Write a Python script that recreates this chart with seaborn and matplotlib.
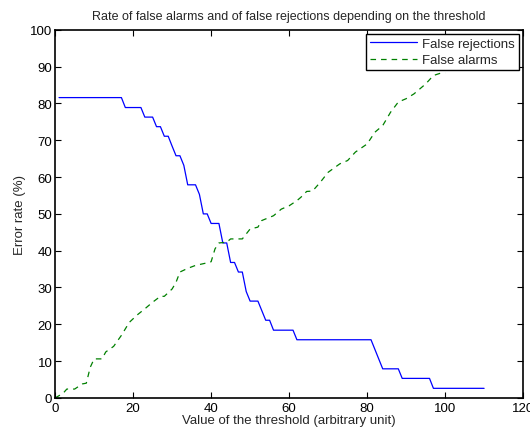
import matplotlib
matplotlib.use("Agg")
import matplotlib.pyplot as plt
import seaborn as sns
import pandas as pd


# DATA

rej_x = [1, 17, 18, 22, 23, 25, 26, 27, 28, 29, 30, 31, 32, 33, 34, 36, 37, 38, 39,
         40, 42, 43, 44, 45, 46, 47, 48, 49, 50, 52, 53, 54, 55, 56, 61, 62, 81,
         84, 88, 89, 96, 97, 110]
rej_y = [81.6, 81.6, 78.9, 78.9, 76.3, 76.3, 73.7, 73.7, 71.1, 71.1, 68.4, 65.8, 65.8,
         63.2, 57.9, 57.9, 55.3, 50.0, 50.0, 47.4, 47.4, 42.1, 42.1, 36.8, 36.8, 34.2,
         34.2, 28.9, 26.3, 26.3, 23.7, 21.1, 21.1, 18.4, 18.4, 15.8, 15.8, 7.9, 7.9,
         5.3, 5.3, 2.6, 2.6]

alarm_x = [0, 2, 3, 5, 7, 8, 9, 10, 12, 13, 15, 17, 19, 21, 23, 25, 27, 28, 30, 31,
           32, 34, 36, 39, 40, 41, 42, 44, 45, 48, 50, 52, 53, 56, 58, 60, 62, 63,
           64.5, 66, 68, 70, 73, 75, 77, 80, 82, 84, 86, 88, 90, 92, 95, 97, 99, 100]
alarm_y = [0, 1.2, 2.4, 2.4, 3.8, 4.0, 8.3, 10.6, 10.6, 12.5, 14.0, 17.0, 20.5, 22.5,
           24.2, 26.0, 27.6, 27.6, 29.6, 31.4, 34.2, 35.2, 36.0, 36.7, 37.0, 40.5, 42.1,
           42.3, 43.2, 43.2, 45.9, 46.4, 48.2, 49.5, 51.3, 52.2, 53.6, 54.5, 56.1, 56.2,
           58.6, 61.3, 63.6, 64.5, 66.8, 69.0, 72.2, 74.0, 77.6, 80.4, 81.3, 82.6, 85.3,
           87.6, 88.3, 88.3]

rej = pd.DataFrame({"x": rej_x, "y": rej_y})
alarm = pd.DataFrame({"x": alarm_x, "y": alarm_y})


# STYLE

sns.set_style("ticks")
plt.rcParams["font.family"] = ["Liberation Sans", "DejaVu Sans"]
plt.rcParams["font.size"] = 9
plt.rcParams["xtick.direction"] = "in"
plt.rcParams["ytick.direction"] = "in"
plt.rcParams["lines.scale_dashes"] = False


# PLOT

fig = plt.figure(figsize=(5.3, 4.35), dpi=100)
ax = fig.add_axes([0.104, 0.083, 0.883, 0.846])

sns.lineplot(data=rej, x="x", y="y", sort=False, color="#0000ff",
             linewidth=0.9, label="False rejections", ax=ax)
sns.lineplot(data=alarm, x="x", y="y", sort=False, color="#008000",
             linewidth=0.9, dashes=False, label="False alarms", ax=ax)
ax.lines[1].set_dashes((4.0, 3.6))

ax.set_xlim(0, 120)
ax.set_ylim(0, 100)
ax.set_xticks(range(0, 121, 20))
ax.set_yticks(range(0, 101, 10))
ax.tick_params(top=True, right=True, length=4, width=0.8, labelsize=9.5,
               colors="black")
ax.tick_params(axis="x", pad=3)
ax.tick_params(axis="y", pad=2)
for s in ax.spines.values():
    s.set_visible(True)
    s.set_linewidth(1.2)
    s.set_color("black")

ax.set_title("Rate of false alarms and of false rejections depending on the threshold",
             fontsize=9, pad=8)
ax.set_xlabel("Value of the threshold (arbitrary unit)", fontsize=9.5, labelpad=0)
ax.set_ylabel("Error rate (%)", fontsize=9.5, labelpad=3)

leg = ax.legend(loc="upper right", fancybox=False, framealpha=1, edgecolor="black",
                borderaxespad=0.3, handlelength=3.6, handletextpad=0.4,
                borderpad=0.3, labelspacing=0.3, fontsize=9.5)
leg.get_frame().set_linewidth(1.0)

fig.savefig("out.png", dpi=100)
plt.close()
